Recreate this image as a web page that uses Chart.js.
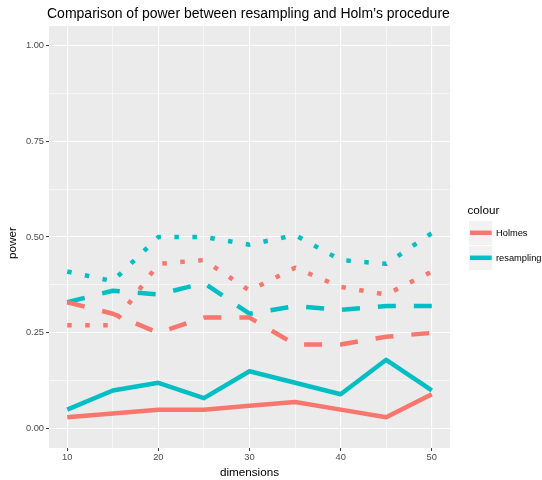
<!DOCTYPE html>
<html lang="en">
<head>
    <meta charset="UTF-8">
    <title>Comparison of power between resampling and Holm's procedure</title>
    <script src="https://cdn.jsdelivr.net/npm/chart.js"></script>
    <style>
        body { margin: 0; background: #fff; }
        #powerChart { display: block; }
    </style>
</head>
<body>
    <canvas id="powerChart" width="542" height="480"></canvas>

    <script>
        // data
        var dims = [10, 15, 20, 25, 30, 35, 40, 45, 50];

        var holmesSolid  = [0.03, 0.04, 0.05, 0.05, 0.06, 0.07, 0.05, 0.03, 0.09];
        var holmesDashed = [0.33, 0.30, 0.25, 0.29, 0.29, 0.22, 0.22, 0.24, 0.25];
        var holmesDotted = [0.27, 0.27, 0.43, 0.44, 0.36, 0.42, 0.37, 0.35, 0.41];

        var resamplingSolid  = [0.05, 0.10, 0.12, 0.08, 0.15, 0.12, 0.09, 0.18, 0.10];
        var resamplingDashed = [0.33, 0.36, 0.35, 0.38, 0.30, 0.32, 0.31, 0.32, 0.32];
        var resamplingDotted = [0.41, 0.385, 0.50, 0.50, 0.48, 0.505, 0.44, 0.43, 0.51];

        var xTicks = [10, 15, 20, 25, 30, 35, 40, 45, 50];
        var xMajor = [10, 20, 30, 40, 50];
        var yTicks = [0, 0.125, 0.25, 0.375, 0.5, 0.625, 0.75, 0.875, 1];
        var yMajor = [0, 0.25, 0.5, 0.75, 1];

        var seriesNames = ["Holmes", "resampling"];
        var RED = "#F8766D", CYAN = "#00BFC4";
        var LW = 4.5;
        var FONT = "'Liberation Sans', Arial, sans-serif";

        function pts(vals) {
            return vals.map(function(v, i) { return { x: dims[i], y: v }; });
        }

        function ds(label, vals, color, dash) {
            return {
                label: label,
                data: pts(vals),
                borderColor: color,
                backgroundColor: color,
                borderWidth: LW,
                borderDash: dash,
                borderCapStyle: "butt",
                borderJoinStyle: "round",
                pointRadius: 0,
                tension: 0,
                fill: false
            };
        }

        var datasets = [
            ds(seriesNames[0], holmesSolid, RED, []),
            ds(seriesNames[1], resamplingSolid, CYAN, []),
            ds(seriesNames[0], holmesDashed, RED, [LW * 4, LW * 4]),
            ds(seriesNames[1], resamplingDashed, CYAN, [LW * 4, LW * 4]),
            ds(seriesNames[0], holmesDotted, RED, [LW, LW * 3]),
            ds(seriesNames[1], resamplingDotted, CYAN, [LW, LW * 3])
        ];

        function isMajor(list, v) {
            return list.some(function(m) { return Math.abs(m - v) < 1e-9; });
        }

        // grey panel, title, axis titles and legend like ggplot
        var ggDecor = {
            id: "ggDecor",
            beforeDraw: function(chart) {
                var a = chart.chartArea, c = chart.ctx;
                c.save();
                c.fillStyle = "#EBEBEB";
                c.fillRect(a.left, a.top, a.right - a.left, a.bottom - a.top);
                c.restore();
            },
            afterDraw: function(chart) {
                var a = chart.chartArea, c = chart.ctx;
                c.save();
                c.fillStyle = "#000";
                c.textBaseline = "alphabetic";

                c.font = "14px " + FONT;
                c.textAlign = "left";
                c.fillText("Comparison of power between resampling and Holm\u2019s procedure", 47, 17.7);

                c.font = "11.7px " + FONT;
                c.textAlign = "center";
                c.fillText("dimensions", (a.left + a.right) / 2, 475.8);

                c.save();
                c.translate(16.3, 243);
                c.rotate(-Math.PI / 2);
                c.fillText("power", 0, 0);
                c.restore();

                // legend
                c.textAlign = "left";
                c.fillText("colour", 467.5, 214);
                var keys = [{ y: 221, col: RED }, { y: 246, col: CYAN }];
                keys.forEach(function(k, i) {
                    c.fillStyle = "#F2F2F2";
                    c.fillRect(469, k.y, 23.3, 24);
                    c.strokeStyle = k.col;
                    c.lineWidth = LW;
                    c.lineCap = "butt";
                    c.beginPath();
                    c.moveTo(470, k.y + 11.8);
                    c.lineTo(491.7, k.y + 11.8);
                    c.stroke();
                    c.fillStyle = "#000";
                    c.font = "9.3px " + FONT;
                    c.textBaseline = "middle";
                    c.fillText(seriesNames[i], 496, k.y + 12.3);
                    c.textBaseline = "alphabetic";
                });
                c.restore();
            }
        };

        var ctx = document.getElementById("powerChart").getContext("2d");

        new Chart(ctx, {
            type: "line",
            data: { datasets: datasets },
            plugins: [ggDecor],
            options: {
                responsive: false,
                animation: false,
                layout: { padding: { top: 26, right: 92, left: 0, bottom: 0 } },
                plugins: {
                    legend: { display: false },
                    title: { display: false },
                    tooltip: { enabled: false }
                },
                scales: {
                    x: {
                        type: "linear",
                        min: 8,
                        max: 52,
                        afterBuildTicks: function(s) {
                            s.ticks = xTicks.map(function(v) { return { value: v }; });
                        },
                        afterFit: function(s) { s.height = 32; },
                        border: { display: false },
                        grid: {
                            color: "#FFFFFF",
                            lineWidth: function(c) { return isMajor(xMajor, c.tick.value) ? 1.1 : 0.55; },
                            drawTicks: true,
                            tickLength: 3,
                            tickWidth: 1,
                            tickColor: function(c) { return isMajor(xMajor, c.tick.value) ? "#333333" : "rgba(0,0,0,0)"; }
                        },
                        ticks: {
                            autoSkip: false,
                            maxRotation: 0,
                            padding: 1,
                            color: "#4D4D4D",
                            font: { family: FONT, size: 9.3 },
                            callback: function(v) { return isMajor(xMajor, v) ? String(v) : ""; }
                        }
                    },
                    y: {
                        type: "linear",
                        min: -0.05,
                        max: 1.05,
                        afterBuildTicks: function(s) {
                            s.ticks = yTicks.map(function(v) { return { value: v }; });
                        },
                        afterFit: function(s) { s.width = 49; },
                        border: { display: false },
                        grid: {
                            color: "#FFFFFF",
                            lineWidth: function(c) { return isMajor(yMajor, c.tick.value) ? 1.1 : 0.55; },
                            drawTicks: true,
                            tickLength: 3,
                            tickWidth: 1,
                            tickColor: function(c) { return isMajor(yMajor, c.tick.value) ? "#333333" : "rgba(0,0,0,0)"; }
                        },
                        ticks: {
                            autoSkip: false,
                            padding: 2,
                            color: "#4D4D4D",
                            font: { family: FONT, size: 9.3 },
                            callback: function(v) { return isMajor(yMajor, v) ? v.toFixed(2) : ""; }
                        }
                    }
                }
            }
        });
    </script>
</body>
</html>
